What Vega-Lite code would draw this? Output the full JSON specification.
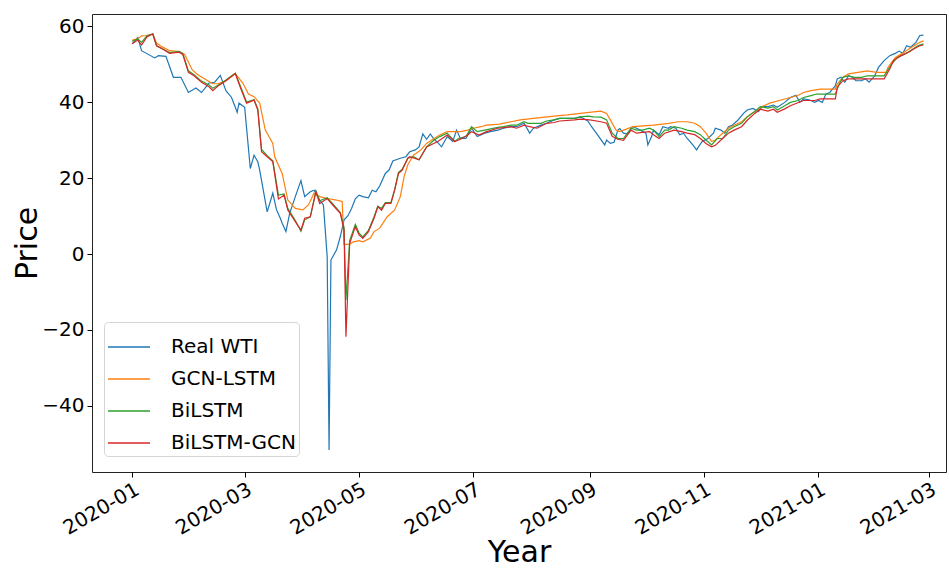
{
  "$schema": "https://vega.github.io/schema/vega-lite/v6.json",
  "width": 854,
  "height": 458,
  "autosize": {"type": "none"},
  "padding": {"left": 92, "top": 14, "right": 3, "bottom": 96},
  "background": "white",
  "config": {
    "font": "DejaVu Sans",
    "view": {"stroke": "#222", "strokeWidth": 1},
    "axis": {"grid": false, "domain": false, "labelColor": "#000", "tickColor": "#000", "tickSize": 5, "tickWidth": 1, "labelFontSize": 20, "titleFontSize": 30, "titleFontWeight": "normal", "titleColor": "#000", "labelFont": "DejaVu Sans", "titleFont": "DejaVu Sans"}
  },
  "datasets": {
    "prices": [
      {"date":"2020-01-01","series":"Real WTI","price":55.3},
      {"date":"2020-01-04","series":"Real WTI","price":57.0},
      {"date":"2020-01-06","series":"Real WTI","price":53.5},
      {"date":"2020-01-13","series":"Real WTI","price":51.6},
      {"date":"2020-01-15","series":"Real WTI","price":52.2},
      {"date":"2020-01-19","series":"Real WTI","price":52.0},
      {"date":"2020-01-23","series":"Real WTI","price":46.5},
      {"date":"2020-01-27","series":"Real WTI","price":46.5},
      {"date":"2020-01-31","series":"Real WTI","price":42.5},
      {"date":"2020-02-04","series":"Real WTI","price":43.7},
      {"date":"2020-02-07","series":"Real WTI","price":42.5},
      {"date":"2020-02-11","series":"Real WTI","price":45.0},
      {"date":"2020-02-14","series":"Real WTI","price":45.2},
      {"date":"2020-02-17","series":"Real WTI","price":47.0},
      {"date":"2020-02-20","series":"Real WTI","price":43.0},
      {"date":"2020-02-23","series":"Real WTI","price":41.2},
      {"date":"2020-02-26","series":"Real WTI","price":37.3},
      {"date":"2020-02-27","series":"Real WTI","price":39.7},
      {"date":"2020-03-01","series":"Real WTI","price":38.6},
      {"date":"2020-03-04","series":"Real WTI","price":22.5},
      {"date":"2020-03-06","series":"Real WTI","price":26.0},
      {"date":"2020-03-08","series":"Real WTI","price":24.3},
      {"date":"2020-03-09","series":"Real WTI","price":22.1},
      {"date":"2020-03-13","series":"Real WTI","price":11.1},
      {"date":"2020-03-16","series":"Real WTI","price":16.0},
      {"date":"2020-03-18","series":"Real WTI","price":11.6},
      {"date":"2020-03-20","series":"Real WTI","price":9.4},
      {"date":"2020-03-21","series":"Real WTI","price":8.1},
      {"date":"2020-03-23","series":"Real WTI","price":5.9},
      {"date":"2020-03-25","series":"Real WTI","price":10.7},
      {"date":"2020-03-28","series":"Real WTI","price":15.1},
      {"date":"2020-03-31","series":"Real WTI","price":19.3},
      {"date":"2020-04-02","series":"Real WTI","price":15.1},
      {"date":"2020-04-05","series":"Real WTI","price":16.4},
      {"date":"2020-04-07","series":"Real WTI","price":16.8},
      {"date":"2020-04-10","series":"Real WTI","price":14.2},
      {"date":"2020-04-12","series":"Real WTI","price":12.9},
      {"date":"2020-04-14","series":"Real WTI","price":-0.7},
      {"date":"2020-04-15","series":"Real WTI","price":-51.6},
      {"date":"2020-04-16","series":"Real WTI","price":-1.6},
      {"date":"2020-04-19","series":"Real WTI","price":1.1},
      {"date":"2020-04-21","series":"Real WTI","price":4.6},
      {"date":"2020-04-23","series":"Real WTI","price":9.0},
      {"date":"2020-04-25","series":"Real WTI","price":10.0},
      {"date":"2020-04-27","series":"Real WTI","price":12.0},
      {"date":"2020-04-29","series":"Real WTI","price":14.5},
      {"date":"2020-05-01","series":"Real WTI","price":15.5},
      {"date":"2020-05-03","series":"Real WTI","price":15.1},
      {"date":"2020-05-06","series":"Real WTI","price":14.8},
      {"date":"2020-05-08","series":"Real WTI","price":16.8},
      {"date":"2020-05-10","series":"Real WTI","price":16.4},
      {"date":"2020-05-12","series":"Real WTI","price":17.9},
      {"date":"2020-05-15","series":"Real WTI","price":21.2},
      {"date":"2020-05-17","series":"Real WTI","price":22.1},
      {"date":"2020-05-19","series":"Real WTI","price":24.5},
      {"date":"2020-05-23","series":"Real WTI","price":25.2},
      {"date":"2020-05-26","series":"Real WTI","price":25.6},
      {"date":"2020-05-28","series":"Real WTI","price":26.9},
      {"date":"2020-05-31","series":"Real WTI","price":27.4},
      {"date":"2020-06-02","series":"Real WTI","price":28.2},
      {"date":"2020-06-04","series":"Real WTI","price":31.6},
      {"date":"2020-06-06","series":"Real WTI","price":30.2},
      {"date":"2020-06-08","series":"Real WTI","price":31.6},
      {"date":"2020-06-10","series":"Real WTI","price":30.2},
      {"date":"2020-06-12","series":"Real WTI","price":29.3},
      {"date":"2020-06-14","series":"Real WTI","price":28.2},
      {"date":"2020-06-17","series":"Real WTI","price":30.9},
      {"date":"2020-06-20","series":"Real WTI","price":29.6},
      {"date":"2020-06-22","series":"Real WTI","price":32.6},
      {"date":"2020-06-24","series":"Real WTI","price":30.4},
      {"date":"2020-06-27","series":"Real WTI","price":30.4},
      {"date":"2020-06-30","series":"Real WTI","price":33.1},
      {"date":"2020-07-03","series":"Real WTI","price":30.9},
      {"date":"2020-07-07","series":"Real WTI","price":31.8},
      {"date":"2020-07-10","series":"Real WTI","price":32.2},
      {"date":"2020-07-14","series":"Real WTI","price":32.6},
      {"date":"2020-07-17","series":"Real WTI","price":33.1},
      {"date":"2020-07-21","series":"Real WTI","price":33.5},
      {"date":"2020-07-24","series":"Real WTI","price":33.5},
      {"date":"2020-07-28","series":"Real WTI","price":34.4},
      {"date":"2020-07-31","series":"Real WTI","price":31.8},
      {"date":"2020-08-02","series":"Real WTI","price":33.1},
      {"date":"2020-08-06","series":"Real WTI","price":33.9},
      {"date":"2020-08-09","series":"Real WTI","price":34.4},
      {"date":"2020-08-13","series":"Real WTI","price":35.3},
      {"date":"2020-08-16","series":"Real WTI","price":35.7},
      {"date":"2020-08-20","series":"Real WTI","price":35.7},
      {"date":"2020-08-24","series":"Real WTI","price":35.7},
      {"date":"2020-08-27","series":"Real WTI","price":36.1},
      {"date":"2020-08-31","series":"Real WTI","price":35.0},
      {"date":"2020-09-02","series":"Real WTI","price":33.5},
      {"date":"2020-09-05","series":"Real WTI","price":31.5},
      {"date":"2020-09-09","series":"Real WTI","price":28.7},
      {"date":"2020-09-10","series":"Real WTI","price":30.0},
      {"date":"2020-09-12","series":"Real WTI","price":29.1},
      {"date":"2020-09-14","series":"Real WTI","price":29.4},
      {"date":"2020-09-16","series":"Real WTI","price":32.6},
      {"date":"2020-09-17","series":"Real WTI","price":33.0},
      {"date":"2020-09-19","series":"Real WTI","price":31.8},
      {"date":"2020-09-21","series":"Real WTI","price":31.6},
      {"date":"2020-09-24","series":"Real WTI","price":33.5},
      {"date":"2020-09-26","series":"Real WTI","price":33.1},
      {"date":"2020-09-28","series":"Real WTI","price":32.6},
      {"date":"2020-10-01","series":"Real WTI","price":31.8},
      {"date":"2020-10-02","series":"Real WTI","price":28.7},
      {"date":"2020-10-04","series":"Real WTI","price":30.9},
      {"date":"2020-10-05","series":"Real WTI","price":32.6},
      {"date":"2020-10-08","series":"Real WTI","price":31.4},
      {"date":"2020-10-10","series":"Real WTI","price":33.5},
      {"date":"2020-10-13","series":"Real WTI","price":33.1},
      {"date":"2020-10-14","series":"Real WTI","price":33.5},
      {"date":"2020-10-17","series":"Real WTI","price":33.1},
      {"date":"2020-10-19","series":"Real WTI","price":31.4},
      {"date":"2020-10-21","series":"Real WTI","price":31.8},
      {"date":"2020-10-23","series":"Real WTI","price":30.4},
      {"date":"2020-10-26","series":"Real WTI","price":28.7},
      {"date":"2020-10-28","series":"Real WTI","price":27.4},
      {"date":"2020-10-29","series":"Real WTI","price":28.2},
      {"date":"2020-10-31","series":"Real WTI","price":29.6},
      {"date":"2020-11-03","series":"Real WTI","price":30.4},
      {"date":"2020-11-06","series":"Real WTI","price":31.8},
      {"date":"2020-11-07","series":"Real WTI","price":33.1},
      {"date":"2020-11-10","series":"Real WTI","price":32.6},
      {"date":"2020-11-12","series":"Real WTI","price":31.8},
      {"date":"2020-11-14","series":"Real WTI","price":33.5},
      {"date":"2020-11-16","series":"Real WTI","price":33.9},
      {"date":"2020-11-19","series":"Real WTI","price":35.2},
      {"date":"2020-11-22","series":"Real WTI","price":37.0},
      {"date":"2020-11-24","series":"Real WTI","price":37.9},
      {"date":"2020-11-27","series":"Real WTI","price":38.3},
      {"date":"2020-11-30","series":"Real WTI","price":37.5},
      {"date":"2020-12-02","series":"Real WTI","price":38.8},
      {"date":"2020-12-05","series":"Real WTI","price":38.8},
      {"date":"2020-12-08","series":"Real WTI","price":39.2},
      {"date":"2020-12-10","series":"Real WTI","price":38.6},
      {"date":"2020-12-14","series":"Real WTI","price":39.9},
      {"date":"2020-12-17","series":"Real WTI","price":41.2},
      {"date":"2020-12-20","series":"Real WTI","price":41.8},
      {"date":"2020-12-22","series":"Real WTI","price":39.9},
      {"date":"2020-12-24","series":"Real WTI","price":40.8},
      {"date":"2020-12-27","series":"Real WTI","price":40.6},
      {"date":"2020-12-30","series":"Real WTI","price":39.9},
      {"date":"2021-01-01","series":"Real WTI","price":40.4},
      {"date":"2021-01-03","series":"Real WTI","price":39.9},
      {"date":"2021-01-05","series":"Real WTI","price":42.1},
      {"date":"2021-01-07","series":"Real WTI","price":42.5},
      {"date":"2021-01-10","series":"Real WTI","price":44.3},
      {"date":"2021-01-11","series":"Real WTI","price":46.1},
      {"date":"2021-01-13","series":"Real WTI","price":46.5},
      {"date":"2021-01-15","series":"Real WTI","price":45.2},
      {"date":"2021-01-17","series":"Real WTI","price":46.9},
      {"date":"2021-01-19","series":"Real WTI","price":46.5},
      {"date":"2021-01-21","series":"Real WTI","price":45.6},
      {"date":"2021-01-24","series":"Real WTI","price":45.6},
      {"date":"2021-01-26","series":"Real WTI","price":46.1},
      {"date":"2021-01-28","series":"Real WTI","price":45.2},
      {"date":"2021-01-31","series":"Real WTI","price":46.9},
      {"date":"2021-02-02","series":"Real WTI","price":49.1},
      {"date":"2021-02-05","series":"Real WTI","price":50.9},
      {"date":"2021-02-08","series":"Real WTI","price":52.2},
      {"date":"2021-02-10","series":"Real WTI","price":52.6},
      {"date":"2021-02-11","series":"Real WTI","price":52.8},
      {"date":"2021-02-13","series":"Real WTI","price":53.4},
      {"date":"2021-02-15","series":"Real WTI","price":52.8},
      {"date":"2021-02-17","series":"Real WTI","price":54.8},
      {"date":"2021-02-19","series":"Real WTI","price":54.4},
      {"date":"2021-02-20","series":"Real WTI","price":54.8},
      {"date":"2021-02-22","series":"Real WTI","price":55.7},
      {"date":"2021-02-24","series":"Real WTI","price":57.5},
      {"date":"2021-02-26","series":"Real WTI","price":57.6},

      {"date":"2020-01-01","series":"GCN-LSTM","price":56.3},
      {"date":"2020-01-04","series":"GCN-LSTM","price":56.6},
      {"date":"2020-01-06","series":"GCN-LSTM","price":57.4},
      {"date":"2020-01-09","series":"GCN-LSTM","price":57.5},
      {"date":"2020-01-12","series":"GCN-LSTM","price":57.9},
      {"date":"2020-01-14","series":"GCN-LSTM","price":55.5},
      {"date":"2020-01-17","series":"GCN-LSTM","price":54.5},
      {"date":"2020-01-21","series":"GCN-LSTM","price":53.5},
      {"date":"2020-01-26","series":"GCN-LSTM","price":53.3},
      {"date":"2020-01-29","series":"GCN-LSTM","price":52.5},
      {"date":"2020-02-02","series":"GCN-LSTM","price":48.5},
      {"date":"2020-02-05","series":"GCN-LSTM","price":47.2},
      {"date":"2020-02-09","series":"GCN-LSTM","price":46.0},
      {"date":"2020-02-13","series":"GCN-LSTM","price":44.8},
      {"date":"2020-02-16","series":"GCN-LSTM","price":44.8},
      {"date":"2020-02-20","series":"GCN-LSTM","price":45.6},
      {"date":"2020-02-25","series":"GCN-LSTM","price":47.5},
      {"date":"2020-02-29","series":"GCN-LSTM","price":45.0},
      {"date":"2020-03-03","series":"GCN-LSTM","price":42.1},
      {"date":"2020-03-06","series":"GCN-LSTM","price":41.4},
      {"date":"2020-03-09","series":"GCN-LSTM","price":39.7},
      {"date":"2020-03-12","series":"GCN-LSTM","price":32.6},
      {"date":"2020-03-16","series":"GCN-LSTM","price":29.1},
      {"date":"2020-03-17","series":"GCN-LSTM","price":25.6},
      {"date":"2020-03-21","series":"GCN-LSTM","price":21.2},
      {"date":"2020-03-24","series":"GCN-LSTM","price":14.2},
      {"date":"2020-03-28","series":"GCN-LSTM","price":12.0},
      {"date":"2020-04-01","series":"GCN-LSTM","price":11.6},
      {"date":"2020-04-04","series":"GCN-LSTM","price":12.9},
      {"date":"2020-04-07","series":"GCN-LSTM","price":16.0},
      {"date":"2020-04-10","series":"GCN-LSTM","price":15.1},
      {"date":"2020-04-14","series":"GCN-LSTM","price":14.6},
      {"date":"2020-04-19","series":"GCN-LSTM","price":14.2},
      {"date":"2020-04-22","series":"GCN-LSTM","price":13.8},
      {"date":"2020-04-23","series":"GCN-LSTM","price":2.5},
      {"date":"2020-04-26","series":"GCN-LSTM","price":2.6},
      {"date":"2020-04-28","series":"GCN-LSTM","price":3.2},
      {"date":"2020-05-01","series":"GCN-LSTM","price":3.5},
      {"date":"2020-05-03","series":"GCN-LSTM","price":3.2},
      {"date":"2020-05-07","series":"GCN-LSTM","price":4.2},
      {"date":"2020-05-09","series":"GCN-LSTM","price":5.9},
      {"date":"2020-05-12","series":"GCN-LSTM","price":6.8},
      {"date":"2020-05-16","series":"GCN-LSTM","price":9.8},
      {"date":"2020-05-20","series":"GCN-LSTM","price":11.6},
      {"date":"2020-05-23","series":"GCN-LSTM","price":15.1},
      {"date":"2020-05-25","series":"GCN-LSTM","price":20.3},
      {"date":"2020-05-27","series":"GCN-LSTM","price":23.5},
      {"date":"2020-05-30","series":"GCN-LSTM","price":26.0},
      {"date":"2020-06-03","series":"GCN-LSTM","price":27.4},
      {"date":"2020-06-06","series":"GCN-LSTM","price":29.1},
      {"date":"2020-06-10","series":"GCN-LSTM","price":30.4},
      {"date":"2020-06-13","series":"GCN-LSTM","price":31.3},
      {"date":"2020-06-17","series":"GCN-LSTM","price":32.2},
      {"date":"2020-06-24","series":"GCN-LSTM","price":32.2},
      {"date":"2020-06-28","series":"GCN-LSTM","price":32.6},
      {"date":"2020-07-01","series":"GCN-LSTM","price":33.1},
      {"date":"2020-07-05","series":"GCN-LSTM","price":33.5},
      {"date":"2020-07-08","series":"GCN-LSTM","price":33.9},
      {"date":"2020-07-15","series":"GCN-LSTM","price":34.2},
      {"date":"2020-07-21","series":"GCN-LSTM","price":34.8},
      {"date":"2020-07-26","series":"GCN-LSTM","price":35.3},
      {"date":"2020-08-02","series":"GCN-LSTM","price":35.7},
      {"date":"2020-08-13","series":"GCN-LSTM","price":36.3},
      {"date":"2020-08-20","series":"GCN-LSTM","price":36.6},
      {"date":"2020-08-27","series":"GCN-LSTM","price":37.0},
      {"date":"2020-09-03","series":"GCN-LSTM","price":37.4},
      {"date":"2020-09-07","series":"GCN-LSTM","price":37.6},
      {"date":"2020-09-10","series":"GCN-LSTM","price":37.0},
      {"date":"2020-09-12","series":"GCN-LSTM","price":35.3},
      {"date":"2020-09-15","series":"GCN-LSTM","price":32.6},
      {"date":"2020-09-17","series":"GCN-LSTM","price":32.2},
      {"date":"2020-09-24","series":"GCN-LSTM","price":33.5},
      {"date":"2020-10-05","series":"GCN-LSTM","price":33.9},
      {"date":"2020-10-13","series":"GCN-LSTM","price":34.4},
      {"date":"2020-10-18","series":"GCN-LSTM","price":34.8},
      {"date":"2020-10-23","series":"GCN-LSTM","price":34.8},
      {"date":"2020-10-27","series":"GCN-LSTM","price":34.4},
      {"date":"2020-10-30","series":"GCN-LSTM","price":33.5},
      {"date":"2020-11-02","series":"GCN-LSTM","price":31.8},
      {"date":"2020-11-05","series":"GCN-LSTM","price":29.6},
      {"date":"2020-11-07","series":"GCN-LSTM","price":30.0},
      {"date":"2020-11-10","series":"GCN-LSTM","price":31.4},
      {"date":"2020-11-14","series":"GCN-LSTM","price":33.1},
      {"date":"2020-11-17","series":"GCN-LSTM","price":33.9},
      {"date":"2020-11-21","series":"GCN-LSTM","price":34.8},
      {"date":"2020-11-24","series":"GCN-LSTM","price":36.1},
      {"date":"2020-11-28","series":"GCN-LSTM","price":37.5},
      {"date":"2020-12-02","series":"GCN-LSTM","price":38.8},
      {"date":"2020-12-06","series":"GCN-LSTM","price":39.7},
      {"date":"2020-12-14","series":"GCN-LSTM","price":40.8},
      {"date":"2020-12-21","series":"GCN-LSTM","price":41.7},
      {"date":"2020-12-24","series":"GCN-LSTM","price":42.5},
      {"date":"2020-12-28","series":"GCN-LSTM","price":43.0},
      {"date":"2021-01-02","series":"GCN-LSTM","price":43.4},
      {"date":"2021-01-10","series":"GCN-LSTM","price":43.4},
      {"date":"2021-01-11","series":"GCN-LSTM","price":44.7},
      {"date":"2021-01-14","series":"GCN-LSTM","price":46.5},
      {"date":"2021-01-17","series":"GCN-LSTM","price":47.4},
      {"date":"2021-01-22","series":"GCN-LSTM","price":47.8},
      {"date":"2021-01-27","series":"GCN-LSTM","price":48.2},
      {"date":"2021-02-01","series":"GCN-LSTM","price":47.8},
      {"date":"2021-02-06","series":"GCN-LSTM","price":47.8},
      {"date":"2021-02-07","series":"GCN-LSTM","price":49.1},
      {"date":"2021-02-09","series":"GCN-LSTM","price":50.4},
      {"date":"2021-02-11","series":"GCN-LSTM","price":51.7},
      {"date":"2021-02-14","series":"GCN-LSTM","price":52.6},
      {"date":"2021-02-18","series":"GCN-LSTM","price":53.9},
      {"date":"2021-02-21","series":"GCN-LSTM","price":54.8},
      {"date":"2021-02-24","series":"GCN-LSTM","price":55.7},
      {"date":"2021-02-26","series":"GCN-LSTM","price":56.1},

      {"date":"2020-01-01","series":"BiLSTM","price":56.0},
      {"date":"2020-01-04","series":"BiLSTM","price":56.6},
      {"date":"2020-01-06","series":"BiLSTM","price":55.7},
      {"date":"2020-01-09","series":"BiLSTM","price":57.5},
      {"date":"2020-01-12","series":"BiLSTM","price":57.9},
      {"date":"2020-01-14","series":"BiLSTM","price":54.8},
      {"date":"2020-01-17","series":"BiLSTM","price":54.0},
      {"date":"2020-01-21","series":"BiLSTM","price":53.0},
      {"date":"2020-01-26","series":"BiLSTM","price":53.3},
      {"date":"2020-01-28","series":"BiLSTM","price":52.8},
      {"date":"2020-01-31","series":"BiLSTM","price":48.2},
      {"date":"2020-02-03","series":"BiLSTM","price":47.2},
      {"date":"2020-02-07","series":"BiLSTM","price":45.5},
      {"date":"2020-02-11","series":"BiLSTM","price":44.5},
      {"date":"2020-02-13","series":"BiLSTM","price":43.6},
      {"date":"2020-02-16","series":"BiLSTM","price":44.5},
      {"date":"2020-02-20","series":"BiLSTM","price":45.8},
      {"date":"2020-02-25","series":"BiLSTM","price":47.6},
      {"date":"2020-02-28","series":"BiLSTM","price":43.8},
      {"date":"2020-03-02","series":"BiLSTM","price":40.0},
      {"date":"2020-03-06","series":"BiLSTM","price":40.6},
      {"date":"2020-03-08","series":"BiLSTM","price":38.2},
      {"date":"2020-03-10","series":"BiLSTM","price":27.5},
      {"date":"2020-03-13","series":"BiLSTM","price":25.9},
      {"date":"2020-03-16","series":"BiLSTM","price":24.5},
      {"date":"2020-03-19","series":"BiLSTM","price":15.5},
      {"date":"2020-03-22","series":"BiLSTM","price":15.8},
      {"date":"2020-03-24","series":"BiLSTM","price":12.0},
      {"date":"2020-03-28","series":"BiLSTM","price":8.8},
      {"date":"2020-03-31","series":"BiLSTM","price":6.0},
      {"date":"2020-04-02","series":"BiLSTM","price":9.0},
      {"date":"2020-04-05","series":"BiLSTM","price":9.8},
      {"date":"2020-04-08","series":"BiLSTM","price":16.6},
      {"date":"2020-04-10","series":"BiLSTM","price":14.0},
      {"date":"2020-04-14","series":"BiLSTM","price":14.8},
      {"date":"2020-04-17","series":"BiLSTM","price":13.2},
      {"date":"2020-04-21","series":"BiLSTM","price":10.9},
      {"date":"2020-04-23","series":"BiLSTM","price":7.0},
      {"date":"2020-04-24","series":"BiLSTM","price":-12.1},
      {"date":"2020-04-26","series":"BiLSTM","price":3.5},
      {"date":"2020-04-29","series":"BiLSTM","price":7.8},
      {"date":"2020-05-01","series":"BiLSTM","price":5.5},
      {"date":"2020-05-03","series":"BiLSTM","price":4.5},
      {"date":"2020-05-06","series":"BiLSTM","price":6.2},
      {"date":"2020-05-09","series":"BiLSTM","price":9.8},
      {"date":"2020-05-11","series":"BiLSTM","price":12.6},
      {"date":"2020-05-13","series":"BiLSTM","price":12.0},
      {"date":"2020-05-15","series":"BiLSTM","price":13.5},
      {"date":"2020-05-18","series":"BiLSTM","price":13.6},
      {"date":"2020-05-20","series":"BiLSTM","price":17.0},
      {"date":"2020-05-22","series":"BiLSTM","price":21.4},
      {"date":"2020-05-24","series":"BiLSTM","price":22.3},
      {"date":"2020-05-27","series":"BiLSTM","price":25.2},
      {"date":"2020-05-30","series":"BiLSTM","price":25.6},
      {"date":"2020-06-02","series":"BiLSTM","price":24.8},
      {"date":"2020-06-06","series":"BiLSTM","price":28.2},
      {"date":"2020-06-10","series":"BiLSTM","price":30.0},
      {"date":"2020-06-13","series":"BiLSTM","price":30.9},
      {"date":"2020-06-17","series":"BiLSTM","price":31.8},
      {"date":"2020-06-21","series":"BiLSTM","price":29.6},
      {"date":"2020-06-23","series":"BiLSTM","price":30.4},
      {"date":"2020-06-27","series":"BiLSTM","price":30.9},
      {"date":"2020-06-30","series":"BiLSTM","price":33.5},
      {"date":"2020-07-03","series":"BiLSTM","price":32.2},
      {"date":"2020-07-07","series":"BiLSTM","price":32.6},
      {"date":"2020-07-14","series":"BiLSTM","price":33.3},
      {"date":"2020-07-17","series":"BiLSTM","price":33.5},
      {"date":"2020-07-21","series":"BiLSTM","price":33.9},
      {"date":"2020-07-24","series":"BiLSTM","price":33.9},
      {"date":"2020-07-28","series":"BiLSTM","price":34.8},
      {"date":"2020-07-30","series":"BiLSTM","price":34.4},
      {"date":"2020-08-06","series":"BiLSTM","price":34.4},
      {"date":"2020-08-09","series":"BiLSTM","price":35.0},
      {"date":"2020-08-13","series":"BiLSTM","price":35.3},
      {"date":"2020-08-16","series":"BiLSTM","price":35.7},
      {"date":"2020-08-24","series":"BiLSTM","price":35.7},
      {"date":"2020-08-27","series":"BiLSTM","price":36.1},
      {"date":"2020-08-31","series":"BiLSTM","price":36.3},
      {"date":"2020-09-03","series":"BiLSTM","price":36.1},
      {"date":"2020-09-07","series":"BiLSTM","price":36.0},
      {"date":"2020-09-10","series":"BiLSTM","price":35.3},
      {"date":"2020-09-13","series":"BiLSTM","price":31.8},
      {"date":"2020-09-16","series":"BiLSTM","price":30.4},
      {"date":"2020-09-19","series":"BiLSTM","price":30.4},
      {"date":"2020-09-23","series":"BiLSTM","price":33.1},
      {"date":"2020-09-26","series":"BiLSTM","price":32.6},
      {"date":"2020-09-29","series":"BiLSTM","price":32.6},
      {"date":"2020-10-03","series":"BiLSTM","price":33.1},
      {"date":"2020-10-05","series":"BiLSTM","price":32.6},
      {"date":"2020-10-08","series":"BiLSTM","price":30.9},
      {"date":"2020-10-11","series":"BiLSTM","price":32.6},
      {"date":"2020-10-13","series":"BiLSTM","price":32.6},
      {"date":"2020-10-16","series":"BiLSTM","price":33.5},
      {"date":"2020-10-20","series":"BiLSTM","price":33.1},
      {"date":"2020-10-23","series":"BiLSTM","price":32.6},
      {"date":"2020-10-27","series":"BiLSTM","price":32.2},
      {"date":"2020-10-30","series":"BiLSTM","price":31.4},
      {"date":"2020-11-02","series":"BiLSTM","price":30.0},
      {"date":"2020-11-05","series":"BiLSTM","price":28.7},
      {"date":"2020-11-08","series":"BiLSTM","price":30.4},
      {"date":"2020-11-11","series":"BiLSTM","price":30.4},
      {"date":"2020-11-14","series":"BiLSTM","price":32.6},
      {"date":"2020-11-17","series":"BiLSTM","price":33.5},
      {"date":"2020-11-21","series":"BiLSTM","price":34.4},
      {"date":"2020-11-24","series":"BiLSTM","price":36.1},
      {"date":"2020-11-28","series":"BiLSTM","price":37.5},
      {"date":"2020-12-01","series":"BiLSTM","price":38.8},
      {"date":"2020-12-05","series":"BiLSTM","price":38.4},
      {"date":"2020-12-08","series":"BiLSTM","price":38.8},
      {"date":"2020-12-10","series":"BiLSTM","price":37.9},
      {"date":"2020-12-14","series":"BiLSTM","price":39.0},
      {"date":"2020-12-17","series":"BiLSTM","price":39.9},
      {"date":"2020-12-21","series":"BiLSTM","price":40.4},
      {"date":"2020-12-24","series":"BiLSTM","price":41.2},
      {"date":"2020-12-28","series":"BiLSTM","price":41.7},
      {"date":"2020-12-31","series":"BiLSTM","price":42.1},
      {"date":"2021-01-06","series":"BiLSTM","price":42.1},
      {"date":"2021-01-10","series":"BiLSTM","price":42.1},
      {"date":"2021-01-12","series":"BiLSTM","price":44.7},
      {"date":"2021-01-14","series":"BiLSTM","price":46.5},
      {"date":"2021-01-17","series":"BiLSTM","price":46.9},
      {"date":"2021-01-20","series":"BiLSTM","price":46.5},
      {"date":"2021-01-24","series":"BiLSTM","price":46.5},
      {"date":"2021-01-27","series":"BiLSTM","price":46.9},
      {"date":"2021-02-05","series":"BiLSTM","price":46.9},
      {"date":"2021-02-09","series":"BiLSTM","price":50.0},
      {"date":"2021-02-12","series":"BiLSTM","price":51.7},
      {"date":"2021-02-16","series":"BiLSTM","price":52.6},
      {"date":"2021-02-19","series":"BiLSTM","price":53.5},
      {"date":"2021-02-23","series":"BiLSTM","price":54.8},
      {"date":"2021-02-26","series":"BiLSTM","price":55.3},

      {"date":"2020-01-01","series":"BiLSTM-GCN","price":55.3},
      {"date":"2020-01-04","series":"BiLSTM-GCN","price":56.3},
      {"date":"2020-01-06","series":"BiLSTM-GCN","price":55.0},
      {"date":"2020-01-09","series":"BiLSTM-GCN","price":57.2},
      {"date":"2020-01-12","series":"BiLSTM-GCN","price":57.9},
      {"date":"2020-01-14","series":"BiLSTM-GCN","price":54.8},
      {"date":"2020-01-17","series":"BiLSTM-GCN","price":54.0},
      {"date":"2020-01-21","series":"BiLSTM-GCN","price":52.8},
      {"date":"2020-01-26","series":"BiLSTM-GCN","price":53.1},
      {"date":"2020-01-28","series":"BiLSTM-GCN","price":52.5},
      {"date":"2020-01-31","series":"BiLSTM-GCN","price":47.8},
      {"date":"2020-02-03","series":"BiLSTM-GCN","price":46.9},
      {"date":"2020-02-07","series":"BiLSTM-GCN","price":45.2},
      {"date":"2020-02-11","series":"BiLSTM-GCN","price":44.0},
      {"date":"2020-02-13","series":"BiLSTM-GCN","price":43.0},
      {"date":"2020-02-16","series":"BiLSTM-GCN","price":44.3},
      {"date":"2020-02-20","series":"BiLSTM-GCN","price":45.6},
      {"date":"2020-02-25","series":"BiLSTM-GCN","price":47.5},
      {"date":"2020-02-28","series":"BiLSTM-GCN","price":43.4},
      {"date":"2020-03-02","series":"BiLSTM-GCN","price":39.7},
      {"date":"2020-03-06","series":"BiLSTM-GCN","price":40.5},
      {"date":"2020-03-08","series":"BiLSTM-GCN","price":37.9},
      {"date":"2020-03-10","series":"BiLSTM-GCN","price":26.9},
      {"date":"2020-03-13","series":"BiLSTM-GCN","price":25.6},
      {"date":"2020-03-16","series":"BiLSTM-GCN","price":24.3},
      {"date":"2020-03-19","series":"BiLSTM-GCN","price":14.5},
      {"date":"2020-03-22","series":"BiLSTM-GCN","price":15.5},
      {"date":"2020-03-24","series":"BiLSTM-GCN","price":11.6},
      {"date":"2020-03-28","series":"BiLSTM-GCN","price":8.5},
      {"date":"2020-03-31","series":"BiLSTM-GCN","price":6.3},
      {"date":"2020-04-02","series":"BiLSTM-GCN","price":9.4},
      {"date":"2020-04-05","series":"BiLSTM-GCN","price":9.8},
      {"date":"2020-04-08","series":"BiLSTM-GCN","price":16.4},
      {"date":"2020-04-10","series":"BiLSTM-GCN","price":13.3},
      {"date":"2020-04-14","series":"BiLSTM-GCN","price":14.6},
      {"date":"2020-04-17","series":"BiLSTM-GCN","price":12.9},
      {"date":"2020-04-21","series":"BiLSTM-GCN","price":10.7},
      {"date":"2020-04-23","series":"BiLSTM-GCN","price":6.3},
      {"date":"2020-04-24","series":"BiLSTM-GCN","price":-21.8},
      {"date":"2020-04-26","series":"BiLSTM-GCN","price":2.8},
      {"date":"2020-04-29","series":"BiLSTM-GCN","price":7.2},
      {"date":"2020-05-01","series":"BiLSTM-GCN","price":5.0},
      {"date":"2020-05-03","series":"BiLSTM-GCN","price":4.1},
      {"date":"2020-05-06","series":"BiLSTM-GCN","price":5.9},
      {"date":"2020-05-09","series":"BiLSTM-GCN","price":9.4},
      {"date":"2020-05-11","series":"BiLSTM-GCN","price":12.4},
      {"date":"2020-05-13","series":"BiLSTM-GCN","price":11.5},
      {"date":"2020-05-15","series":"BiLSTM-GCN","price":13.3},
      {"date":"2020-05-18","series":"BiLSTM-GCN","price":13.3},
      {"date":"2020-05-20","series":"BiLSTM-GCN","price":16.8},
      {"date":"2020-05-22","series":"BiLSTM-GCN","price":21.2},
      {"date":"2020-05-24","series":"BiLSTM-GCN","price":22.1},
      {"date":"2020-05-27","series":"BiLSTM-GCN","price":25.2},
      {"date":"2020-05-28","series":"BiLSTM-GCN","price":25.6},
      {"date":"2020-06-02","series":"BiLSTM-GCN","price":24.8},
      {"date":"2020-06-06","series":"BiLSTM-GCN","price":28.2},
      {"date":"2020-06-12","series":"BiLSTM-GCN","price":29.6},
      {"date":"2020-06-17","series":"BiLSTM-GCN","price":31.3},
      {"date":"2020-06-21","series":"BiLSTM-GCN","price":29.6},
      {"date":"2020-06-24","series":"BiLSTM-GCN","price":30.2},
      {"date":"2020-06-28","series":"BiLSTM-GCN","price":31.3},
      {"date":"2020-06-30","series":"BiLSTM-GCN","price":32.2},
      {"date":"2020-07-04","series":"BiLSTM-GCN","price":31.3},
      {"date":"2020-07-08","series":"BiLSTM-GCN","price":32.2},
      {"date":"2020-07-14","series":"BiLSTM-GCN","price":33.1},
      {"date":"2020-07-21","series":"BiLSTM-GCN","price":33.5},
      {"date":"2020-07-24","series":"BiLSTM-GCN","price":33.1},
      {"date":"2020-07-28","series":"BiLSTM-GCN","price":33.9},
      {"date":"2020-07-31","series":"BiLSTM-GCN","price":33.5},
      {"date":"2020-08-04","series":"BiLSTM-GCN","price":33.1},
      {"date":"2020-08-09","series":"BiLSTM-GCN","price":34.4},
      {"date":"2020-08-13","series":"BiLSTM-GCN","price":34.6},
      {"date":"2020-08-16","series":"BiLSTM-GCN","price":35.0},
      {"date":"2020-08-24","series":"BiLSTM-GCN","price":35.3},
      {"date":"2020-08-27","series":"BiLSTM-GCN","price":35.5},
      {"date":"2020-09-01","series":"BiLSTM-GCN","price":35.3},
      {"date":"2020-09-07","series":"BiLSTM-GCN","price":34.8},
      {"date":"2020-09-10","series":"BiLSTM-GCN","price":34.4},
      {"date":"2020-09-13","series":"BiLSTM-GCN","price":31.0},
      {"date":"2020-09-16","series":"BiLSTM-GCN","price":30.2},
      {"date":"2020-09-19","series":"BiLSTM-GCN","price":29.9},
      {"date":"2020-09-23","series":"BiLSTM-GCN","price":32.6},
      {"date":"2020-09-26","series":"BiLSTM-GCN","price":31.8},
      {"date":"2020-09-29","series":"BiLSTM-GCN","price":32.0},
      {"date":"2020-10-03","series":"BiLSTM-GCN","price":32.2},
      {"date":"2020-10-05","series":"BiLSTM-GCN","price":31.4},
      {"date":"2020-10-08","series":"BiLSTM-GCN","price":30.4},
      {"date":"2020-10-11","series":"BiLSTM-GCN","price":31.8},
      {"date":"2020-10-16","series":"BiLSTM-GCN","price":32.6},
      {"date":"2020-10-20","series":"BiLSTM-GCN","price":32.2},
      {"date":"2020-10-23","series":"BiLSTM-GCN","price":31.8},
      {"date":"2020-10-27","series":"BiLSTM-GCN","price":31.4},
      {"date":"2020-10-30","series":"BiLSTM-GCN","price":30.4},
      {"date":"2020-11-02","series":"BiLSTM-GCN","price":29.1},
      {"date":"2020-11-05","series":"BiLSTM-GCN","price":28.2},
      {"date":"2020-11-07","series":"BiLSTM-GCN","price":28.6},
      {"date":"2020-11-10","series":"BiLSTM-GCN","price":30.0},
      {"date":"2020-11-14","series":"BiLSTM-GCN","price":31.8},
      {"date":"2020-11-17","series":"BiLSTM-GCN","price":32.6},
      {"date":"2020-11-21","series":"BiLSTM-GCN","price":33.5},
      {"date":"2020-11-24","series":"BiLSTM-GCN","price":35.2},
      {"date":"2020-11-28","series":"BiLSTM-GCN","price":37.0},
      {"date":"2020-12-01","series":"BiLSTM-GCN","price":38.1},
      {"date":"2020-12-05","series":"BiLSTM-GCN","price":37.6},
      {"date":"2020-12-08","series":"BiLSTM-GCN","price":38.1},
      {"date":"2020-12-10","series":"BiLSTM-GCN","price":37.3},
      {"date":"2020-12-14","series":"BiLSTM-GCN","price":38.2},
      {"date":"2020-12-17","series":"BiLSTM-GCN","price":39.0},
      {"date":"2020-12-21","series":"BiLSTM-GCN","price":39.8},
      {"date":"2020-12-24","series":"BiLSTM-GCN","price":40.4},
      {"date":"2020-12-30","series":"BiLSTM-GCN","price":40.4},
      {"date":"2021-01-02","series":"BiLSTM-GCN","price":40.8},
      {"date":"2021-01-10","series":"BiLSTM-GCN","price":40.8},
      {"date":"2021-01-11","series":"BiLSTM-GCN","price":43.9},
      {"date":"2021-01-14","series":"BiLSTM-GCN","price":45.6},
      {"date":"2021-01-17","series":"BiLSTM-GCN","price":46.1},
      {"date":"2021-01-25","series":"BiLSTM-GCN","price":46.1},
      {"date":"2021-02-05","series":"BiLSTM-GCN","price":46.1},
      {"date":"2021-02-08","series":"BiLSTM-GCN","price":48.7},
      {"date":"2021-02-10","series":"BiLSTM-GCN","price":50.9},
      {"date":"2021-02-14","series":"BiLSTM-GCN","price":52.2},
      {"date":"2021-02-18","series":"BiLSTM-GCN","price":53.1},
      {"date":"2021-02-21","series":"BiLSTM-GCN","price":54.0},
      {"date":"2021-02-24","series":"BiLSTM-GCN","price":54.8},
      {"date":"2021-02-26","series":"BiLSTM-GCN","price":55.0}
    ]
  },
  "data": {"name": "prices"},
  "mark": {"type": "line", "strokeWidth": 1.2, "clip": true},
  "encoding": {
    "x": {
      "field": "date",
      "type": "temporal",
      "scale": {"type": "utc", "domain": [{"year": 2019, "month": 12, "date": 10, "hours": 14, "utc": true}, {"year": 2021, "month": 3, "date": 10, "utc": true}]},
      "axis": {"title": "Year", "labelExpr": "utcFormat(datum.value, '%Y-%m')", "tickCount": {"interval": "month", "step": 2}, "labelAngle": -30, "labelAlign": "right", "labelBaseline": "top", "labelPadding": 2, "titleY": 89, "titleBaseline": "alphabetic", "labelFlush": false, "labelOverlap": false}
    },
    "y": {
      "field": "price",
      "type": "quantitative",
      "scale": {"domain": [-57.37, 63.16], "nice": false, "zero": false},
      "axis": {"title": "Price", "values": [-40, -20, 0, 20, 40, 60], "labelPadding": 3, "titleX": -56, "titleY": 229, "titleAngle": -90, "titleAlign": "center", "titleBaseline": "alphabetic"}
    },
    "color": {
      "field": "series",
      "type": "nominal",
      "scale": {"domain": ["Real WTI", "GCN-LSTM", "BiLSTM", "BiLSTM-GCN"], "range": ["#1f77b4", "#ff7f0e", "#2ca02c", "#d62728"]},
      "legend": {"orient": "none", "legendX": 12, "legendY": 308, "title": null, "symbolType": "stroke", "symbolSize": 1764, "symbolStrokeWidth": 1.5, "labelFontSize": 20, "labelFont": "DejaVu Sans", "labelColor": "#000", "labelOffset": 20, "rowPadding": 0, "padding": 3, "strokeColor": "#d5d5d5", "fillColor": "white", "cornerRadius": 4, "labelLimit": 300}
    }
  }
}
